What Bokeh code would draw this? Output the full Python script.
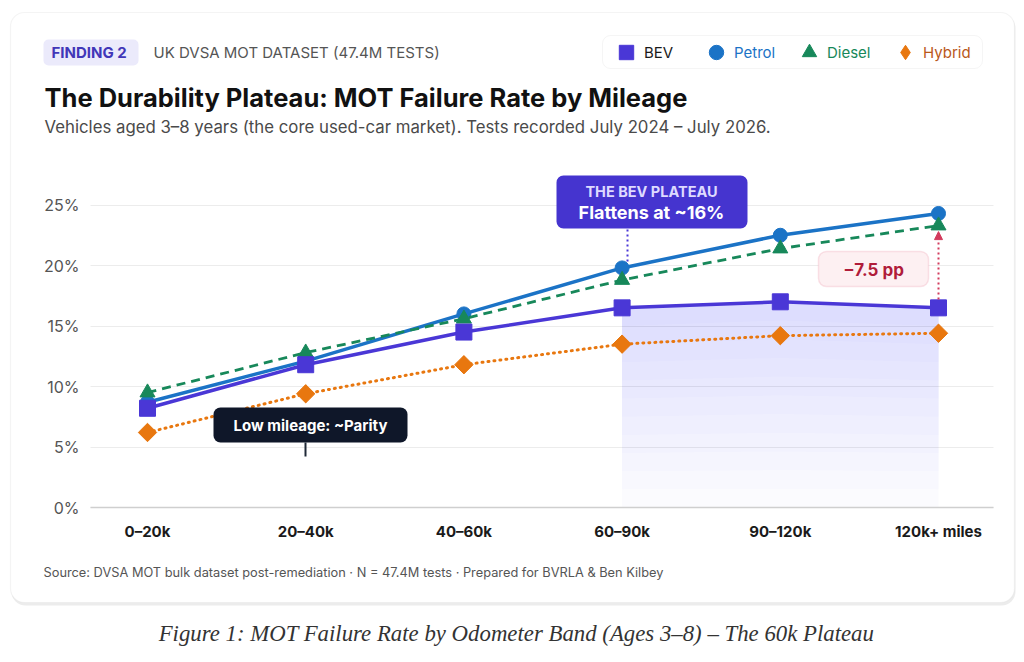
from bokeh.plotting import figure
from bokeh.models import (Range1d, FixedTicker, PrintfTickFormatter, Label, BoxAnnotation,
                          Legend, LegendItem, Arrow, NormalHead)
from bokeh.embed import file_html
from bokeh.resources import INLINE

# ---------------- data ----------------
bands = ["0–20k", "20–40k", "40–60k", "60–90k", "90–120k", "120k+ miles"]
bev = [8.2, 11.8, 14.5, 16.5, 17.0, 16.5]
petrol = [8.7, 12.1, 16.0, 19.8, 22.5, 24.3]
diesel = [9.5, 12.8, 15.6, 18.8, 21.4, 23.3]
hybrid = [6.2, 9.4, 11.8, 13.5, 14.2, 14.4]
y_ticks = [0, 5, 10, 15, 20, 25]
plateau_start = 3
gap_text = "−7.5 pp"

# ---------------- style ----------------
C_BEV = "#4a37d6"
C_PET = "#1b73c6"
C_DIE = "#17885a"
C_HYB = "#e8770f"
C_RED = "#d23a5c"
FONT = "Inter"

xs = list(range(len(bands)))

W, H = 1024, 662
# layout of the plotting area in page pixels
X0_PX, X_STEP = 147.0, 158.2      # first band centre, band spacing
Y0_PX, Y_STEP = 507.0, 12.1       # 0% line, pixels per percentage point
PLOT_L, PLOT_R = 90.0, 993.0

x_start = -X0_PX / X_STEP
x_end = (W - X0_PX) / X_STEP
y_start = -(H - Y0_PX) / Y_STEP
y_end = Y0_PX / Y_STEP
x_left = (PLOT_L - X0_PX) / X_STEP
x_right = (PLOT_R - X0_PX) / X_STEP

p = figure(width=W, height=H, output_backend="svg", toolbar_location=None, title=None,
           x_range=Range1d(x_start, x_end), y_range=Range1d(y_start, y_end),
           min_border=0)
p.outline_line_color = None
p.background_fill_color = "white"
p.border_fill_color = "white"


def sx(px):
    return px


def sy(py):
    return H - py


def box(l, t, r, b, fill, line=None, radius=6, lw=1.0, level="annotation"):
    p.add_layout(BoxAnnotation(left=sx(l), right=sx(r), top=sy(t), bottom=sy(b),
                               left_units="screen", right_units="screen",
                               top_units="screen", bottom_units="screen",
                               fill_color=fill, fill_alpha=1.0, line_color=line,
                               line_width=lw, border_radius=radius, level=level))


def text(px, py, s, size, color, style="normal", align="left", baseline="middle", font=FONT):
    p.add_layout(Label(x=sx(px), y=sy(py), x_units="screen", y_units="screen", text=s,
                       text_font=font, text_font_size=f"{size}px", text_color=color,
                       text_font_style=style, text_align=align, text_baseline=baseline))


# card with soft shadow
box(11, 14, 1015, 605, "#ececec", None, radius=14, level="image")
box(10, 12, 1014, 602, "white", "#d9d9d9", radius=14, lw=1.2, level="image")

# axes / grid
p.xaxis.fixed_location = 0
p.xaxis.bounds = (x_left, x_right)
p.xaxis.ticker = FixedTicker(ticks=xs)
p.xaxis.major_label_overrides = {i: b for i, b in enumerate(bands)}
p.xaxis.major_label_text_font = FONT
p.xaxis.major_label_text_font_size = "15px"
p.xaxis.major_label_text_font_style = "bold"
p.xaxis.major_label_text_color = "#1a1a1a"
p.xaxis.major_label_standoff = 14
p.xaxis.major_tick_out = 0
p.xaxis.major_tick_in = 0
p.xaxis.major_tick_line_color = None
p.xaxis.minor_tick_line_color = None
p.xaxis.axis_line_color = "#cfcfcf"
p.xaxis.axis_line_width = 1.5

p.yaxis.fixed_location = x_left
p.yaxis.ticker = FixedTicker(ticks=y_ticks)
p.yaxis.formatter = PrintfTickFormatter(format="%d%%")
p.yaxis.major_label_text_font = FONT
p.yaxis.major_label_text_font_size = "16px"
p.yaxis.major_label_text_color = "#555555"
p.yaxis.major_label_standoff = 11
p.yaxis.major_tick_out = 0
p.yaxis.major_tick_in = 0
p.yaxis.major_tick_line_color = None
p.yaxis.minor_tick_line_color = None
p.yaxis.axis_line_color = None

p.xgrid.grid_line_color = None
p.ygrid.grid_line_color = "#ececec"
p.ygrid.grid_line_width = 1
p.ygrid.bounds = (0, 25)
p.ygrid.cross_bounds = (x_left, x_right)

# plateau shading (soft vertical gradient under the BEV line)
xp = xs[plateau_start:]
top = bev[plateau_start:]
p.varea(x=xp, y1=[0] * len(top), y2=top, fill_color="#5b5fe0", fill_alpha=0.025)
n_layers = 10
for k in range(1, n_layers + 1):
    frac = k / (n_layers + 1)
    p.varea(x=xp, y1=[v * frac for v in top], y2=top, fill_color="#5b5fe0", fill_alpha=0.014)

# series
p.line(xs, hybrid, color=C_HYB, line_width=3, line_dash="1 5", line_cap="round")
r_hyb = p.scatter(xs, hybrid, marker="diamond", size=17, color=C_HYB)   # legend glyph
p.scatter(xs, hybrid, marker="square", angle=0.785398, size=13, color=C_HYB)
p.line(xs, petrol, color=C_PET, line_width=3.5)
r_pet = p.scatter(xs, petrol, marker="circle", size=14, color=C_PET)
p.line(xs, diesel, color=C_DIE, line_width=2.8, line_dash="9 6")
r_die = p.scatter(xs, diesel, marker="triangle", size=15, color=C_DIE)
p.line(xs, bev, color=C_BEV, line_width=3.5)
r_bev = p.scatter(xs, bev, marker="square", size=16, color=C_BEV)

# header
box(43, 39, 138, 65, "#ebeafb", None, radius=5)
text(51, 52, "FINDING 2", 15, "#4136b8", style="bold")
text(153, 52, "UK DVSA MOT DATASET (47.4M TESTS)", 15, "#555555")
text(44, 97, "The Durability Plateau: MOT Failure Rate by Mileage", 25.5, "#111111",
     style="bold", baseline="alphabetic")
text(44, 126, "Vehicles aged 3–8 years (the core used-car market). Tests recorded July 2024 – July 2026.",
     16.8, "#4a4a4a", baseline="alphabetic")

# legend
box(602, 35, 982, 68, "white", "#dedede", radius=8)
leg_specs = [("BEV", r_bev, "#1a1a1a", 626), ("Petrol", r_pet, C_PET, 716),
             ("Diesel", r_die, C_DIE, 809), ("Hybrid", r_hyb, "#b9581a", 905)]
for lab, rend, tcol, cx in leg_specs:
    lg = Legend(items=[LegendItem(label=lab, renderers=[rend])],
                location=(sx(cx - 18), sy(52 + 18)), orientation="horizontal",
                glyph_width=36, glyph_height=36, label_standoff=-1, padding=0, margin=0,
                spacing=0, background_fill_alpha=0, border_line_color=None,
                label_text_color=tcol, label_text_font=FONT, label_text_font_size="15px")
    p.add_layout(lg)

# annotation: BEV plateau
box(556, 175, 747, 228, "#4534cf", None, radius=7)
text(651, 191, "THE BEV PLATEAU", 14.5, "#dedaff", style="bold", align="center")
text(651, 212, "Flattens at ~16%", 18, "white", style="bold", align="center")
p.add_layout(Arrow(end=None, x_start=sx(627), y_start=sy(229), x_end=sx(627), y_end=sy(262),
                   start_units="screen", end_units="screen",
                   line_color=C_BEV, line_width=2, line_dash="2 3"))

# annotation: gap
box(818, 251, 928, 286, "#fdf0f2", "#efa7b5", radius=8, lw=1.5)
text(873, 269, gap_text, 17, "#b01c3a", style="bold", align="center")
p.add_layout(Arrow(end=NormalHead(size=8, fill_color=C_RED, line_color=C_RED),
                   x_start=xs[-1], y_start=bev[-1] + 0.7, x_end=xs[-1], y_end=diesel[-1] - 0.5,
                   line_color=C_RED, line_width=2, line_dash="2 3"))

# annotation: low mileage parity
box(213, 407, 407, 442, "#0f1729", None, radius=7)
text(310, 425, "Low mileage: ~Parity", 15, "white", style="bold", align="center")
p.add_layout(Arrow(end=None, x_start=sx(305), y_start=sy(442), x_end=sx(305), y_end=sy(456),
                   start_units="screen", end_units="screen",
                   line_color="#1f2937", line_width=2))

# footer
text(43, 572, "Source: DVSA MOT bulk dataset post-remediation · N = 47.4M tests · Prepared for BVRLA & Ben Kilbey",
     12.8, "#555555")
text(516, 633, "Figure 1: MOT Failure Rate by Odometer Band (Ages 3–8) – The 60k Plateau",
     22.8, "#333333", style="italic", align="center", font="Liberation Serif")

open("out.html", "w").write(file_html(p, INLINE))
